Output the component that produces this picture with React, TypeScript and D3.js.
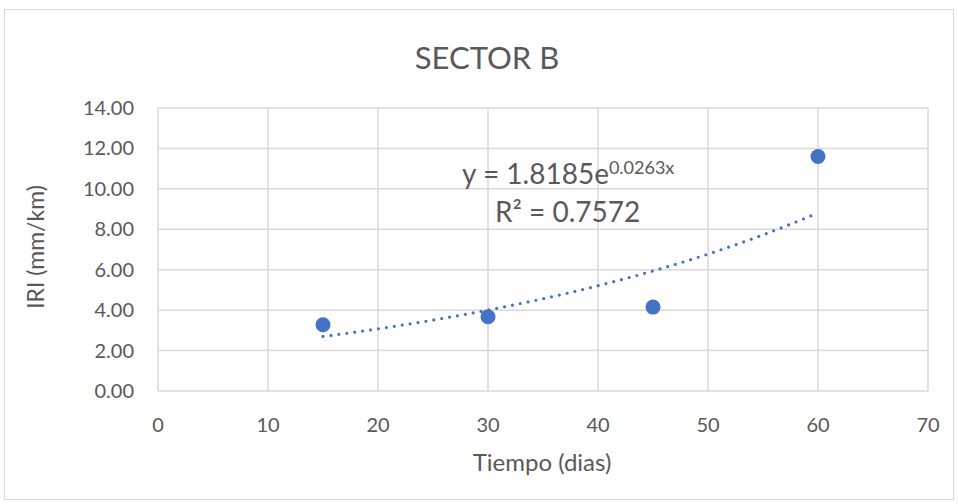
import React from "react";
import * as d3 from "d3";

const days = [15, 30, 45, 60];
const iri = [3.28, 3.67, 4.15, 11.6];
const xTicks = [0, 10, 20, 30, 40, 50, 60, 70];
const yTicks = [0, 2, 4, 6, 8, 10, 12, 14];
const trendA = 1.8185;
const trendB = 0.0263;
const title = "SECTOR B";
const xTitle = "Tiempo (dias)";
const yTitle = "IRI (mm/km)";

const W = 958;
const H = 504;
const FONT = "Lato, 'Liberation Sans', sans-serif";
const TXT = "#595959";
const GRID = "#d9d9d9";
const BLUE = "#4472C4";

export default function App() {
  const x = d3.scaleLinear().domain([0, 70]).range([158, 928]);
  const y = d3.scaleLinear().domain([0, 14]).range([391, 108]);

  const trendX = d3.range(15, 60.001, 0.5);
  const line = d3
    .line<number>()
    .x((d) => x(d))
    .y((d) => y(trendA * Math.exp(trendB * d)));

  return (
    <svg
      width={W}
      height={H}
      style={{ position: "absolute", left: 0, top: 0, background: "#fff" }}
    >
      <rect x={4.5} y={9.5} width={949} height={490} fill="#fff" stroke={GRID} strokeWidth={1} />
      <text x={487} y={69} textAnchor="middle" fontFamily={FONT} fontSize={31} fill={TXT}>
        {title}
      </text>
      {yTicks.map((t) => (
        <line key={"gy" + t} x1={x(0)} x2={x(70)} y1={y(t)} y2={y(t)} stroke={GRID} strokeWidth={1.5} />
      ))}
      {xTicks.map((t) => (
        <line key={"gx" + t} x1={x(t)} x2={x(t)} y1={y(0)} y2={y(14)} stroke={GRID} strokeWidth={1.5} />
      ))}
      {yTicks.map((t) => (
        <text key={"ty" + t} x={134} y={y(t) + 7} textAnchor="end" fontFamily={FONT} fontSize={20} fill={TXT}>
          {t.toFixed(2)}
        </text>
      ))}
      {xTicks.map((t) => (
        <text key={"tx" + t} x={x(t)} y={432} textAnchor="middle" fontFamily={FONT} fontSize={20} fill={TXT}>
          {t}
        </text>
      ))}
      <text x={542} y={471} textAnchor="middle" fontFamily={FONT} fontSize={24} fill={TXT}>
        {xTitle}
      </text>
      <text
        transform={`translate(44,247) rotate(-90)`}
        textAnchor="middle"
        fontFamily={FONT}
        fontSize={23}
        fill={TXT}
      >
        {yTitle}
      </text>
      <path
        d={line(trendX) || ""}
        fill="none"
        stroke={BLUE}
        strokeWidth={3.2}
        strokeDasharray="0 8"
        strokeLinecap="round"
      />
      {days.map((d, i) => (
        <circle key={"p" + i} cx={x(d)} cy={y(iri[i])} r={7.5} fill={BLUE} />
      ))}
      <text x={462} y={184} fontFamily={FONT} fontSize={28} fill={TXT}>
        y = 1.8185e<tspan dy={-10} fontSize={18}>0.0263x</tspan>
      </text>
      <text x={495} y={222} fontFamily={FONT} fontSize={28} fill={TXT}>
        R² = 0.7572
      </text>
    </svg>
  );
}
